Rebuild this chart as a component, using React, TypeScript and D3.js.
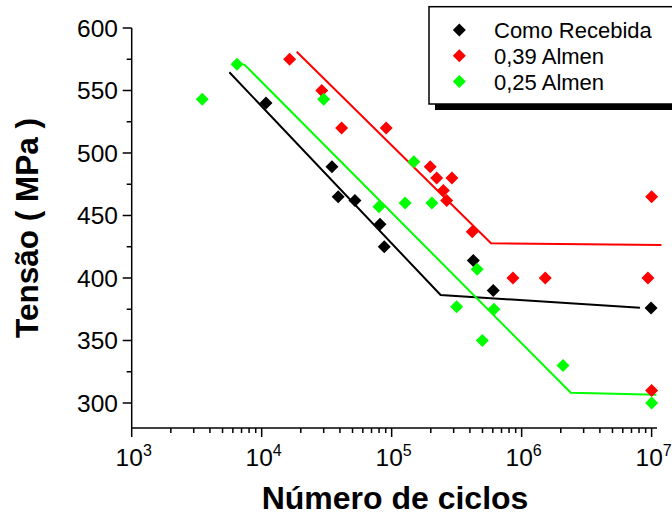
import { useEffect, useRef } from "react";
import * as d3 from "d3";

// S-N data: [cycles, stress MPa]
const asReceived: [number, number][] = [
  [1.08e4, 540], [3.47e4, 489], [3.88e4, 465], [5.22e4, 462], [8.13e4, 443],
  [8.77e4, 425], [4.25e5, 414], [6.05e5, 390], [9.9e6, 376],
];
const almen039: [number, number][] = [
  [1.64e4, 575], [2.9e4, 550], [4.12e4, 520], [9.08e4, 520], [1.98e5, 489],
  [2.22e5, 480], [2.91e5, 480], [2.5e5, 470], [2.65e5, 462], [4.17e5, 437],
  [8.57e5, 400], [1.52e6, 400], [9.37e6, 400], [1e7, 465], [1e7, 310],
];
const almen025: [number, number][] = [
  [3.49e3, 543], [6.46e3, 571], [3.0e4, 543], [1.48e5, 493], [7.98e4, 457],
  [1.27e5, 460], [2.04e5, 460], [4.55e5, 407], [3.16e5, 377], [6.12e5, 375],
  [4.98e5, 350], [2.08e6, 330], [1e7, 300],
];

// fitted bilinear curves
const fitAsReceived: [number, number][] = [[5.64e3, 564.6], [2.38e5, 386.4], [8.13e6, 376.2]];
const fit039: [number, number][] = [[1.86e4, 581], [5.81e5, 427.8], [1.19e7, 426.4]];
const fit025: [number, number][] = [[6.6e3, 571.5], [7.4e3, 570.5], [2.39e6, 308.2], [1.09e7, 306.6]];

const seriesNames = ["Como Recebida", "0,39 Almen", "0,25 Almen"];
const seriesColors = ["#000000", "#ff0000", "#00ff00"];
const yTicks = [300, 350, 400, 450, 500, 550, 600];
const xDecades = [3, 4, 5, 6, 7];

export default function App() {
  const ref = useRef<SVGSVGElement>(null);

  useEffect(() => {
    const svg = d3.select(ref.current);
    svg.selectAll("*").remove();
    const font = "Arial, 'Liberation Sans', sans-serif";

    const x = d3.scaleLog().domain([1e3, 1.1e7]).range([131.7, 657]);
    const y = d3.scaleLinear().domain([280, 600]).range([428, 28]);

    const diamond = "M0,-6.5L6.5,0L0,6.5L-6.5,0Z";

    // fitted lines
    const line = d3.line<[number, number]>()
      .x(d => x(d[0]))
      .y(d => y(d[1]));
    [fitAsReceived, fit039, fit025].forEach((f, i) => {
      svg.append("path")
        .datum(f)
        .attr("fill", "none")
        .attr("stroke", seriesColors[i])
        .attr("stroke-width", 2)
        .attr("d", line);
    });

    // markers
    [asReceived, almen039, almen025].forEach((s, i) => {
      svg.append("g").selectAll("path")
        .data(s)
        .enter().append("path")
        .attr("d", diamond)
        .attr("transform", d => `translate(${x(d[0])},${y(d[1])})`)
        .attr("fill", seriesColors[i]);
    });

    // y axis
    const ya = svg.append("g");
    ya.append("line")
      .attr("x1", x(1e3)).attr("x2", x(1e3))
      .attr("y1", y(600)).attr("y2", y(280))
      .attr("stroke", "#000").attr("stroke-width", 1.5);
    d3.range(300, 601, 25).forEach(v => {
      const major = v % 50 === 0;
      ya.append("line")
        .attr("x1", x(1e3)).attr("x2", x(1e3) - (major ? 9 : 5))
        .attr("y1", y(v)).attr("y2", y(v))
        .attr("stroke", "#000").attr("stroke-width", 1.5);
    });
    ya.selectAll("text.tick")
      .data(yTicks)
      .enter().append("text")
      .attr("x", 118)
      .attr("y", d => y(d))
      .attr("dy", "0.36em")
      .attr("text-anchor", "end")
      .attr("font-family", font)
      .attr("font-size", 24.5)
      .text(d => d);

    // x axis
    const xa = svg.append("g");
    xa.append("line")
      .attr("x1", x(1e3)).attr("x2", x(1.1e7))
      .attr("y1", y(280)).attr("y2", y(280))
      .attr("stroke", "#000").attr("stroke-width", 1.5);
    xDecades.forEach(p => {
      const steps = p < 7 ? d3.range(1, 10) : [1];
      steps.forEach(m => {
        const v = m * Math.pow(10, p);
        xa.append("line")
          .attr("x1", x(v)).attr("x2", x(v))
          .attr("y1", y(280)).attr("y2", y(280) + (m === 1 ? 9 : 5))
          .attr("stroke", "#000").attr("stroke-width", 1.5);
      });
      const t = xa.append("text")
        .attr("x", x(Math.pow(10, p)) + 2)
        .attr("y", 466)
        .attr("text-anchor", "middle")
        .attr("font-family", font)
        .attr("font-size", 24.5);
      t.append("tspan").text("10");
      t.append("tspan").attr("dy", -10).attr("font-size", 16).text(p);
    });

    // axis titles
    svg.append("text")
      .attr("x", 395).attr("y", 509)
      .attr("text-anchor", "middle")
      .attr("font-family", font)
      .attr("font-weight", "bold")
      .attr("font-size", 32)
      .text("Número de ciclos");
    svg.append("text")
      .attr("transform", "translate(38,228) rotate(-90)")
      .attr("text-anchor", "middle")
      .attr("font-family", font)
      .attr("font-weight", "bold")
      .attr("font-size", 31.5)
      .text("Tensão ( MPa )");

    // legend with drop shadow
    const lg = svg.append("g");
    lg.append("rect")
      .attr("x", 435).attr("y", 12.7).attr("width", 260).attr("height", 97.3)
      .attr("fill", "#000");
    lg.append("rect")
      .attr("x", 429).attr("y", 6.7).attr("width", 260).attr("height", 97.3)
      .attr("fill", "#fff").attr("stroke", "#000").attr("stroke-width", 1.5);
    seriesNames.forEach((n, i) => {
      const ly = 30 + i * 25.8;
      lg.append("path")
        .attr("d", diamond)
        .attr("transform", `translate(459.3,${ly})`)
        .attr("fill", seriesColors[i]);
      lg.append("text")
        .attr("x", 494).attr("y", ly)
        .attr("dy", "0.36em")
        .attr("font-family", font)
        .attr("font-size", 22)
        .text(n);
    });
  }, []);

  return (
    <svg ref={ref} width={672} height={522}
      style={{ position: "absolute", left: 0, top: 0, background: "#fff" }} />
  );
}
